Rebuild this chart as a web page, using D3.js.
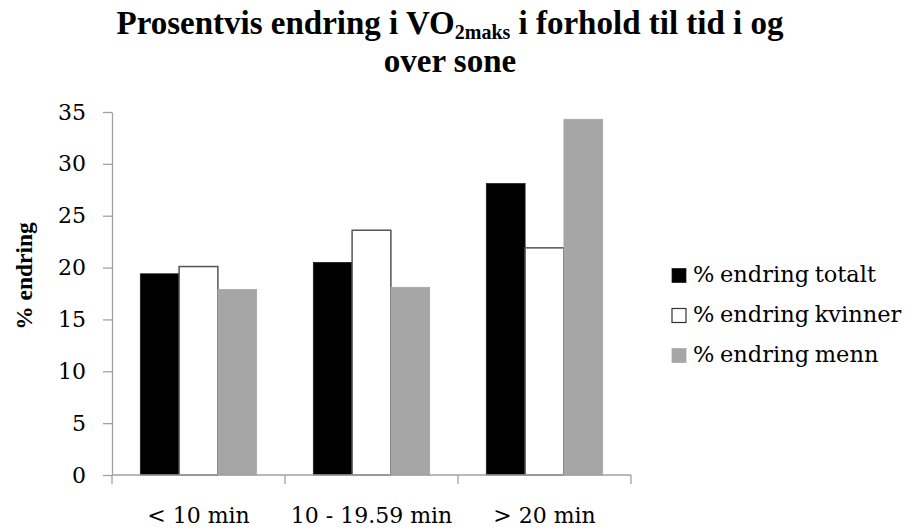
<!DOCTYPE html>
<html>
<head>
<meta charset="utf-8">
<script src="https://cdn.jsdelivr.net/npm/d3@7/dist/d3.min.js"></script>
<style>
  html, body { margin: 0; padding: 0; background: #fff; }
  svg { display: block; }
</style>
</head>
<body>
<svg id="chart" width="908" height="530"></svg>
<script>
// Time spent in and above the zone
const categories = ["< 10 min", "10 - 19.59 min", "> 20 min"];
// Percentage change in VO2max per group
const seriesNames = ["% endring totalt", "% endring kvinner", "% endring menn"];
const totalt  = [19.4, 20.5, 28.1];
const kvinner = [20.1, 23.6, 21.9];
const menn    = [17.9, 18.1, 34.3];
const yTicks  = [0, 5, 10, 15, 20, 25, 30, 35];

const seriesValues = [totalt, kvinner, menn];
const fills   = ["#000000", "#ffffff", "#a6a6a6"];
const strokes = ["#1a1a1a", "#555555", "#a6a6a6"];

const regular = "'DejaVu Serif', serif";
const bold = "'Liberation Serif', 'Times New Roman', serif";

const svg = d3.select("#chart");
const plot = { left: 112, right: 631, top: 112, bottom: 475 };

const x0 = d3.scaleBand().domain(categories).range([plot.left, plot.right]).padding(0);
const x1 = d3.scaleBand().domain(d3.range(3)).range([0, x0.bandwidth()])
  .paddingInner(0).paddingOuter(0.73);
const y = d3.scaleLinear().domain([0, 35]).range([plot.bottom, plot.top]);

// Title, two lines, with subscript in VO2maks
const title1 = svg.append("text")
  .attr("x", 450).attr("y", 34)
  .attr("text-anchor", "middle")
  .attr("font-family", bold).attr("font-weight", "bold").attr("font-size", 33)
  .attr("fill", "#000");
title1.append("tspan").text("Prosentvis endring i VO");
title1.append("tspan").attr("font-size", 20).attr("dy", 5).text("2maks");
title1.append("tspan").attr("dy", -5).text(" i forhold til tid i og");
svg.append("text")
  .attr("x", 450).attr("y", 72)
  .attr("text-anchor", "middle")
  .attr("font-family", bold).attr("font-weight", "bold").attr("font-size", 33)
  .attr("fill", "#000")
  .text("over sone");

// Bars
const groups = svg.append("g").selectAll("g")
  .data(categories)
  .join("g")
  .attr("transform", c => `translate(${x0(c)},0)`);

groups.selectAll("rect")
  .data((c, ci) => seriesValues.map((vals, si) => ({ si, v: vals[ci] })))
  .join("rect")
  .attr("x", d => x1(d.si))
  .attr("width", x1.bandwidth())
  .attr("y", d => y(d.v))
  .attr("height", d => y(0) - y(d.v))
  .attr("fill", d => fills[d.si])
  .attr("stroke", d => strokes[d.si])
  .attr("stroke-width", d => d.si === 1 ? 1.5 : 0.75);

// Y axis
const yAxis = svg.append("g")
  .attr("transform", `translate(${plot.left},0)`)
  .call(d3.axisLeft(y).tickValues(yTicks).tickSize(9).tickPadding(17).tickSizeOuter(0));
yAxis.select(".domain").attr("stroke", "#a0a0a0").attr("stroke-width", 1.3);
yAxis.selectAll(".tick line").attr("stroke", "#a0a0a0").attr("stroke-width", 1.3);
yAxis.selectAll(".tick text")
  .attr("font-family", regular).attr("font-size", 22).attr("fill", "#000");

// X axis: baseline with ticks between categories
const xAxisG = svg.append("g").attr("transform", `translate(0,${plot.bottom})`);
xAxisG.append("line")
  .attr("x1", plot.left).attr("x2", plot.right)
  .attr("stroke", "#a0a0a0").attr("stroke-width", 1.3);
const boundaries = categories.map(c => x0(c)).concat([x0(categories[2]) + x0.bandwidth()]);
xAxisG.selectAll("line.tk")
  .data(boundaries)
  .join("line").attr("class", "tk")
  .attr("x1", d => d).attr("x2", d => d)
  .attr("y1", 0).attr("y2", 9)
  .attr("stroke", "#a0a0a0").attr("stroke-width", 1.3);
xAxisG.selectAll("text")
  .data(categories)
  .join("text")
  .attr("x", c => x0(c) + x0.bandwidth() / 2)
  .attr("y", 48)
  .attr("text-anchor", "middle")
  .attr("font-family", regular).attr("font-size", 22).attr("fill", "#000")
  .text(c => c);

// Y axis title
svg.append("text")
  .attr("transform", "translate(32,276) rotate(-90)")
  .attr("text-anchor", "middle")
  .attr("font-family", bold).attr("font-weight", "bold").attr("font-size", 23.5)
  .attr("fill", "#000")
  .text("% endring");

// Legend
const legend = svg.append("g").attr("transform", "translate(672,0)");
const rows = legend.selectAll("g")
  .data(seriesNames)
  .join("g")
  .attr("transform", (d, i) => `translate(0,${282 + i * 40})`);
rows.append("rect")
  .attr("x", 0).attr("y", -13.5)
  .attr("width", 14).attr("height", 14)
  .attr("fill", (d, i) => fills[i])
  .attr("stroke", (d, i) => i === 1 ? "#333" : strokes[i])
  .attr("stroke-width", (d, i) => i === 1 ? 1.2 : 0.75);
rows.append("text")
  .attr("x", 21).attr("y", 0)
  .attr("font-family", regular).attr("font-size", 22.5).attr("fill", "#000")
  .attr("word-spacing", -1.5)
  .text(d => d);
</script>
</body>
</html>
